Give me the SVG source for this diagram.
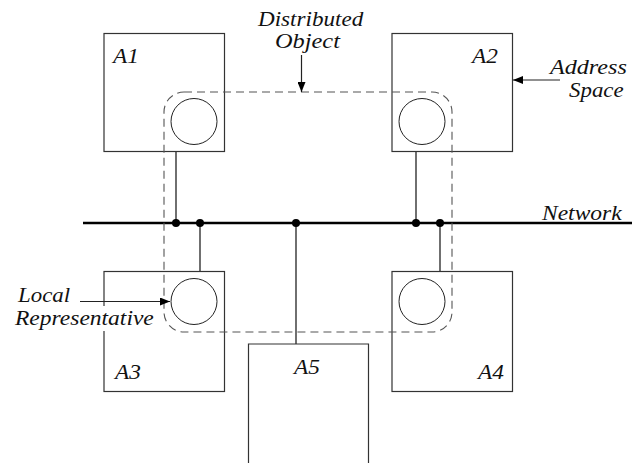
<svg xmlns="http://www.w3.org/2000/svg" width="642" height="463" viewBox="0 0 642 463">
<defs>
<style>
.box{fill:none;stroke:#333;stroke-width:1.2}
.rep{fill:none;stroke:#222;stroke-width:1}
.wire{fill:none;stroke:#222;stroke-width:1.3}
.net{fill:none;stroke:#000;stroke-width:2.6}
.dot{fill:#000}
.dash{fill:none;stroke:#555;stroke-width:1.1;stroke-dasharray:8,5}
.arr{fill:none;stroke:#222;stroke-width:1.2}
</style>
<marker id="ah" viewBox="0 0 10 8" refX="10" refY="4" markerWidth="10" markerHeight="8" markerUnits="userSpaceOnUse" orient="auto">
<path d="M0,0 L10,4 L0,8 z" fill="#000"/>
</marker>
</defs>
<rect width="642" height="463" fill="#fff"/>
<g id="connectors">
<line class="net" x1="83" y1="223" x2="632" y2="223"/>
<line class="wire" x1="176" y1="152" x2="176" y2="223"/>
<line class="wire" x1="416" y1="152" x2="416" y2="223"/>
<line class="wire" x1="200" y1="223" x2="200" y2="272"/>
<line class="wire" x1="440" y1="223" x2="440" y2="272"/>
<line class="wire" x1="296" y1="223" x2="296" y2="344"/>
<circle class="dot" cx="176" cy="223" r="4"/>
<circle class="dot" cx="200" cy="223" r="4"/>
<circle class="dot" cx="296" cy="223" r="4"/>
<circle class="dot" cx="416" cy="223" r="4"/>
<circle class="dot" cx="440" cy="223" r="4"/>
</g>
<g font-family="'Liberation Serif', serif" font-style="italic" font-size="21" fill="#111">
<g id="A1">
<rect class="box" x="104" y="33.5" width="120.5" height="118"/>
<circle class="rep" cx="194" cy="121.5" r="23"/>
<text transform="translate(113,63) scale(1.11,1)">A1</text>
</g>
<g id="A2">
<rect class="box" x="392" y="33.5" width="120.5" height="118"/>
<circle class="rep" cx="422" cy="121.5" r="23"/>
<text transform="translate(472,63) scale(1.11,1)">A2</text>
</g>
<g id="A3">
<rect class="box" x="104" y="271.5" width="120.5" height="120"/>
<circle class="rep" cx="194" cy="301.5" r="23"/>
<text transform="translate(115,379) scale(1.11,1)">A3</text>
</g>
<g id="A4">
<rect class="box" x="392" y="271.5" width="120.5" height="120"/>
<circle class="rep" cx="422" cy="301.5" r="23"/>
<text transform="translate(478,379) scale(1.11,1)">A4</text>
</g>
<g id="A5">
<path class="box" d="M248.5,463 V344 H368.5 V463"/>
<text transform="translate(294,374) scale(1.11,1)">A5</text>
</g>
<g id="distributed-object">
<rect class="dash" x="164" y="92" width="288" height="240" rx="20" ry="20"/>
<text transform="translate(258,26) scale(1.1,1)">Distributed</text>
<text transform="translate(275,48) scale(1.16,1)">Object</text>
<line class="arr" x1="301.5" y1="55" x2="301.5" y2="92" marker-end="url(#ah)"/>
</g>
<g id="address-space">
<text transform="translate(550,74) scale(1.15,1)">Address</text>
<text transform="translate(569,97) scale(1.09,1)">Space</text>
<line class="arr" x1="560" y1="80" x2="513" y2="80" marker-end="url(#ah)"/>
</g>
<g id="local-representative">
<rect x="13" y="306" width="145" height="25" fill="#fff"/>
<text transform="translate(18,301.5) scale(1.09,1)">Local</text>
<text transform="translate(15,325) scale(1.12,1)">Representative</text>
<line class="arr" x1="80" y1="301.5" x2="170" y2="301.5" marker-end="url(#ah)"/>
</g>
<g id="network">
<text transform="translate(542,220) scale(1.12,1)">Network</text>
</g>
</g>
</svg>
